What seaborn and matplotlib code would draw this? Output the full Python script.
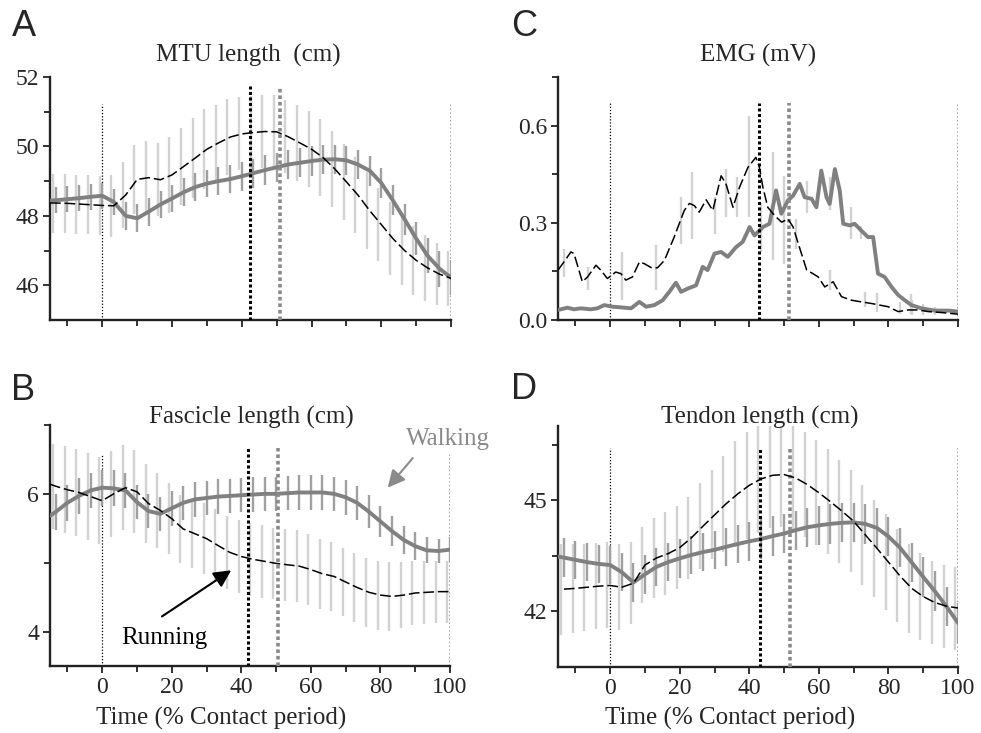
import numpy as np
import matplotlib
matplotlib.use("Agg")
import matplotlib.pyplot as plt
import seaborn as sns
from matplotlib.ticker import MultipleLocator, FixedLocator, FormatStrFormatter

# ---------------- data ----------------
time = [-15, -13.3, -10, -6.7, -3.3, 0, 3.3, 6.7, 10, 13.3, 16.7, 20, 23.3, 26.7, 30, 33.3,
        36.7, 40, 43.3, 46.7, 50, 53.3, 56.7, 60, 63.3, 66.7, 70, 73.3, 76.7, 80, 83.3,
        86.7, 90, 93.3, 96.7, 100]
nan = float("nan")

# A: MTU length (cm)
mtu_walk = [48.44, 48.45, 48.48, 48.51, 48.55, 48.58, 48.4, 48.0, 47.93, 48.12, 48.33, 48.5,
            48.68, 48.83, 48.93, 49.0, 49.06, 49.14, 49.23, 49.32, 49.4, 49.48, 49.53, 49.58,
            49.62, 49.63, 49.6, 49.48, 49.3, 48.95, 48.45, 47.9, 47.35, 46.85, 46.48, 46.22]
mtu_run = [48.37, 48.37, 48.36, 48.34, 48.32, 48.3, 48.29, 48.6, 49.05, 49.1, 49.04, 49.18,
           49.42, 49.67, 49.92, 50.1, 50.27, 50.36, 50.4, 50.43, 50.42, 50.28, 50.1, 49.92,
           49.68, 49.35, 48.98, 48.6, 48.15, 47.75, 47.35, 47.0, 46.72, 46.5, 46.32, 46.2]
mtu_walk_sd = [nan, 0.38, 0.38, 0.38, 0.38, 0.38, 0.38, 0.4, 0.4, 0.4, 0.4, 0.4, 0.4, 0.4,
               0.4, 0.4, 0.4, 0.42, 0.42, 0.42, 0.42, 0.42, 0.42, 0.42, 0.42, 0.42, 0.42,
               0.43, 0.43, 0.43, 0.43, 0.45, 0.47, 0.5, 0.52, 0.5]
mtu_run_sd = [nan, 0.85, 0.85, 0.85, 0.85, 0.85, 0.9, 0.95, 1.0, 1.05, 1.05, 1.1, 1.1, 1.15,
              1.15, 1.1, 1.1, 1.05, 1.05, 1.05, 1.05, 1.05, 1.1, 1.1, 1.1, 1.1, 1.1, 1.1,
              1.1, 1.05, 1.05, 1.0, 1.0, 0.95, 0.9, 0.8]

# B: Fascicle length (cm)
fas_walk = [5.68, 5.74, 5.87, 5.97, 6.05, 6.09, 6.08, 6.05, 5.88, 5.75, 5.71, 5.79, 5.87,
            5.92, 5.94, 5.96, 5.97, 5.98, 5.99, 6.0, 6.0, 6.01, 6.02, 6.02, 6.02, 6.0, 5.95,
            5.87, 5.74, 5.6, 5.46, 5.33, 5.24, 5.18, 5.17, 5.19]
fas_run = [6.14, 6.11, 6.06, 6.02, 5.96, 5.9, 6.0, 6.09, 6.03, 5.86, 5.76, 5.64, 5.49, 5.42,
           5.35, 5.25, 5.15, 5.09, 5.05, 5.02, 4.99, 4.97, 4.95, 4.9, 4.84, 4.8, 4.72, 4.64,
           4.57, 4.53, 4.51, 4.53, 4.56, 4.57, 4.58, 4.58]
fas_walk_sd = [nan, 0.26, 0.26, 0.26, 0.26, 0.26, 0.26, 0.26, 0.25, 0.25, 0.25, 0.25, 0.25,
               0.25, 0.25, 0.25, 0.25, 0.25, 0.25, 0.25, 0.25, 0.25, 0.25, 0.25, 0.25, 0.25,
               0.25, 0.25, 0.24, 0.23, 0.22, 0.21, 0.2, 0.19, 0.18, 0.18]
fas_run_sd = [nan, 0.62, 0.63, 0.63, 0.63, 0.63, 0.62, 0.62, 0.6, 0.58, 0.55, 0.52, 0.5,
              0.5, 0.52, 0.53, 0.53, 0.53, 0.53, 0.53, 0.52, 0.52, 0.52, 0.52, 0.51, 0.5,
              0.5, 0.5, 0.5, 0.5, 0.5, 0.48, 0.47, 0.46, 0.45, 0.45]

# D: Tendon length (cm)
ten_walk = [43.48, 43.45, 43.39, 43.33, 43.28, 43.25, 43.06, 42.78, 43.0, 43.2, 43.33, 43.43,
            43.52, 43.6, 43.66, 43.74, 43.82, 43.89, 43.95, 44.03, 44.1, 44.19, 44.27, 44.32,
            44.36, 44.39, 44.4, 44.36, 44.25, 44.02, 43.72, 43.32, 42.93, 42.55, 42.13, 41.69]
ten_run = [nan, 42.6, 42.62, 42.65, 42.68, 42.7, 42.65, 42.76, 43.25, 43.44, 43.56, 43.72,
           43.98, 44.3, 44.6, 44.9, 45.17, 45.4, 45.57, 45.67, 45.69, 45.6, 45.42, 45.2,
           44.96, 44.7, 44.43, 44.07, 43.7, 43.33, 42.96, 42.62, 42.4, 42.24, 42.14, 42.09]
ten_walk_sd = [nan, 0.52, 0.52, 0.52, 0.52, 0.52, 0.52, 0.52, 0.52, 0.52, 0.52, 0.52, 0.52,
               0.52, 0.52, 0.52, 0.52, 0.53, 0.53, 0.53, 0.53, 0.53, 0.53, 0.53, 0.53, 0.53,
               0.53, 0.53, 0.53, 0.53, 0.53, 0.53, 0.53, 0.53, 0.53, 0.53]
ten_run_sd = [nan, 1.23, 1.2, 1.18, 1.16, 1.16, 1.16, 1.1, 1.03, 1.08, 1.12, 1.12, 1.1, 1.15,
              1.2, 1.3, 1.43, 1.45, 1.45, 1.42, 1.42, 1.42, 1.42, 1.42, 1.41, 1.39, 1.38,
              1.35, 1.3, 1.3, 1.25, 1.2, 1.17, 1.12, 1.12, 1.12]

# C: EMG (mV)
emg_run_t = [-15, -13.3, -11.3, -10.4, -8, -6.5, -4.1, -2.7, -0.8, 1.6, 3.1, 4.5, 6.4, 8.4,
             9.8, 11.7, 13.6, 15.6, 18.4, 21.3, 22.8, 24.2, 25.6, 27.6, 29.5, 31.9, 33.3,
             35.3, 37.2, 39.6, 41.9, 42.9, 43.9, 45.3, 47.3, 49.3, 51.1, 52.6, 54.1, 56.5,
             58.3, 59.8, 61.7, 64.1, 66.5, 69.4, 72.2, 75.1, 79.9, 82.8, 85.7, 88.6, 91.4,
             95.3, 100]
emg_run = [0.154, 0.179, 0.21, 0.205, 0.118, 0.133, 0.169, 0.154, 0.128, 0.148, 0.143, 0.123,
           0.133, 0.179, 0.174, 0.162, 0.161, 0.184, 0.256, 0.338, 0.36, 0.353, 0.333, 0.371,
           0.338, 0.445, 0.42, 0.348, 0.41, 0.471, 0.502, 0.471, 0.41, 0.348, 0.322, 0.302,
           0.312, 0.287, 0.235, 0.154, 0.143, 0.133, 0.102, 0.118, 0.072, 0.061, 0.056,
           0.051, 0.041, 0.026, 0.031, 0.031, 0.026, 0.023, 0.018]
emg_walk_t = [-15, -12.3, -10.4, -8.5, -5.6, -3.7, -1.7, 0.7, 3.1, 6, 8.4, 10.3, 12.7, 15.1,
              17, 18.9, 20.4, 22.3, 24.7, 26.6, 28, 30, 31.9, 33.8, 36.2, 38.1, 40.1, 41.5,
              43.9, 45.8, 47.7, 49.2, 51.1, 52.6, 54.5, 55.9, 57.9, 59.3, 60.7, 62.2, 63.1,
              64.6, 66, 67, 68.9, 70.3, 72.2, 74.1, 75.6, 77, 78.9, 80.9, 82.8, 84.7, 86.6,
              89.5, 93.3, 97.2, 100]
emg_walk = [0.031, 0.038, 0.033, 0.036, 0.033, 0.036, 0.046, 0.041, 0.039, 0.036, 0.056,
            0.041, 0.046, 0.061, 0.087, 0.115, 0.087, 0.097, 0.107, 0.164, 0.154, 0.205, 0.21,
            0.195, 0.225, 0.241, 0.287, 0.261, 0.287, 0.297, 0.4, 0.328, 0.369, 0.384, 0.42,
            0.379, 0.374, 0.348, 0.461, 0.379, 0.358, 0.466, 0.4, 0.297, 0.292, 0.297, 0.276,
            0.256, 0.256, 0.143, 0.133, 0.102, 0.077, 0.061, 0.046, 0.036, 0.029, 0.029, 0.026]
emg_run_bar_t = [-13.2, -6.5, 3.5, 13.3, 20.3, 23.5, 30, 33.3, 36.5, 40, 46.7, 50, 53.3,
                 63.3, 73.3, 76.7, 83.3, 86.7]
emg_run_bar_lo = [0.133, 0.092, 0.061, 0.092, 0.235, 0.251, 0.266, 0.317, 0.317, 0.317,
                  0.184, 0.174, 0.22, 0.092, 0.041, 0.026, 0.02, 0.015]
emg_run_bar_hi = [0.22, 0.164, 0.21, 0.23, 0.379, 0.456, 0.379, 0.466, 0.44, 0.63, 0.517,
                  0.445, 0.312, 0.154, 0.087, 0.082, 0.056, 0.061]
emg_walk_bar_t = [43.3, 56.7, 63.3, 69.1, 72.0, 86.6, 90.0, 93.3]
emg_walk_bar_lo = [0.21, 0.33, 0.34, 0.25, 0.25, 0.02, 0.015, 0.015]
emg_walk_bar_hi = [0.36, 0.43, 0.44, 0.35, 0.29, 0.08, 0.05, 0.04]

# end of stance markers (running, walking) per panel
run_mark = {"A": 42.3, "B": 41.9, "C": 42.7, "D": 43.0}
walk_mark = {"A": 51.0, "B": 50.5, "C": 51.3, "D": 51.6}

titles = {"A": "MTU length  (cm)", "B": "Fascicle length (cm)",
          "C": "EMG (mV)", "D": "Tendon length (cm)"}
xlabel = "Time (% Contact period)"

# ---------------- style ----------------
sns.set_style("ticks")
plt.rcParams["font.family"] = ["Liberation Serif", "DejaVu Serif"]
plt.rcParams["axes.edgecolor"] = "#222222"

W, H = 981, 733
fig = plt.figure(figsize=(W / 100, H / 100), dpi=100)

WALK_C = "#808080"
WALK_BAR = "#a0a0a0"
RUN_BAR = "#d2d2d2"
RUN_DASH = (0, (7, 2.5))


def axes_px(l, t, r, b):
    return fig.add_axes([l / W, 1 - b / H, (r - l) / W, (b - t) / H])


axA = axes_px(50, 77, 451, 320)
axC = axes_px(558, 77, 958, 320)
axB = axes_px(50, 425, 450, 666)
axD = axes_px(558, 426, 958, 667)


def style(ax, ylim, major, minor, xlabels, vtops, key):
    ax.set_xlim(-15, 100)
    ax.set_ylim(*ylim)
    ax.xaxis.set_major_locator(MultipleLocator(20))
    ax.xaxis.set_minor_locator(MultipleLocator(10))
    ax.yaxis.set_major_locator(FixedLocator(major))
    ax.yaxis.set_minor_locator(FixedLocator(minor))
    sns.despine(ax=ax)
    for s in ("left", "bottom"):
        ax.spines[s].set_linewidth(1.7)
        ax.spines[s].set_color("#222222")
    ax.tick_params(which="major", length=5, width=1.3, labelsize=17, direction="out",
                   pad=3, color="#222222")
    ax.tick_params(which="minor", length=4, width=1.3, direction="out", color="#222222")
    ax.tick_params(labelbottom=xlabels)
    ax.set_xlabel("")
    ax.set_ylabel("")
    thin, thick = vtops
    ax.axvline(0, ymax=thin, color="black", lw=0.9, ls=(0, (1, 1.5)), zorder=1)
    ax.axvline(100, ymax=thin, color="#8a8a8a", lw=1.1, ls=(0, (1, 1.5)), zorder=1)
    ax.axvline(run_mark[key], ymax=thick, color="black", lw=2.2, ls=(0, (1, 0.8)), zorder=5)
    ax.axvline(walk_mark[key], ymax=thick, color="#8a8a8a", lw=2.6, ls=(0, (1, 0.8)),
               zorder=5)


def draw_series(ax, walk, run, walk_sd, run_sd):
    t = np.array(time)
    w = np.array(walk)
    r = np.array(run)
    ws = np.array(walk_sd)
    rs = np.array(run_sd)
    ok = ~np.isnan(rs) & ~np.isnan(r)
    ax.vlines(t[ok] - 0.8, r[ok] - rs[ok], r[ok] + rs[ok], color=RUN_BAR, lw=1.7, zorder=2)
    ok = ~np.isnan(ws)
    ax.vlines(t[ok], w[ok] - ws[ok], w[ok] + ws[ok], color=WALK_BAR, lw=1.7, zorder=3)
    sns.lineplot(x=time, y=walk, ax=ax, color=WALK_C, linewidth=2.8, zorder=4,
                 errorbar=None)
    sns.lineplot(x=time, y=run, ax=ax, color="black", linewidth=1.1, linestyle=RUN_DASH,
                 zorder=6, errorbar=None)


# A
draw_series(axA, mtu_walk, mtu_run, mtu_walk_sd, mtu_run_sd)
style(axA, (45, 52), [46, 48, 50, 52], [47, 49, 51], False, (0.89, 0.965), "A")

# B
draw_series(axB, fas_walk, fas_run, fas_walk_sd, fas_run_sd)
style(axB, (3.5, 7), [4, 6], [5, 7], True, (0.88, 0.905), "B")

# D
draw_series(axD, ten_walk, ten_run, ten_walk_sd, ten_run_sd)
style(axD, (40.5, 47), [42, 45], [43.5, 46.5], True, (0.91, 0.905), "D")

# C (EMG)
axC.vlines(emg_run_bar_t, emg_run_bar_lo, emg_run_bar_hi, color=RUN_BAR, lw=1.7, zorder=2)
axC.vlines(emg_walk_bar_t, emg_walk_bar_lo, emg_walk_bar_hi, color=RUN_BAR, lw=1.7, zorder=2)
sns.lineplot(x=emg_walk_t, y=emg_walk, ax=axC, color=WALK_C, linewidth=2.8, zorder=4,
             errorbar=None)
sns.lineplot(x=emg_run_t, y=emg_run, ax=axC, color="black", linewidth=1.1,
             linestyle=RUN_DASH, zorder=6, errorbar=None)
style(axC, (0, 0.75), [0, 0.3, 0.6], [0.15, 0.45, 0.75], False, (0.893, 0.893), "C")
axC.yaxis.set_major_formatter(FormatStrFormatter("%.1f"))

# titles, labels, panel letters
def ftext(px, py, s, **kw):
    fig.text(px / W, 1 - py / H, s, **kw)


ftext(248, 55, titles["A"], ha="center", va="center", fontsize=18)
ftext(758, 55, titles["C"], ha="center", va="center", fontsize=18)
ftext(251, 417, titles["B"], ha="center", va="center", fontsize=18)
ftext(760, 417, titles["D"], ha="center", va="center", fontsize=18)
ftext(221, 718, xlabel, ha="center", va="center", fontsize=18)
ftext(730, 718, xlabel, ha="center", va="center", fontsize=18)

for letter, (px, py) in {"A": (12, 27), "C": (511, 27), "B": (11, 390), "D": (511, 389)}.items():
    ftext(px, py, letter, ha="left", va="center", fontsize=26,
          family=["Liberation Sans", "DejaVu Sans"])

# annotations in panel B
axB.annotate("", xy=(37.1, 4.89), xytext=(17.2, 4.22),
             arrowprops=dict(arrowstyle="-|>", color="black", lw=1.5, mutation_scale=26,
                             shrinkA=0, shrinkB=0), zorder=7)
axB.text(17.8, 3.9, "Running", ha="center", va="center", fontsize=18, color="black")
axB.annotate("", xy=(82.1, 6.09), xytext=(89.3, 6.52),
             arrowprops=dict(arrowstyle="-|>", color="#8a8a8a", lw=1.5, mutation_scale=26,
                             shrinkA=0, shrinkB=0), annotation_clip=False, zorder=7)
axB.text(99.4, 6.8, "Walking", ha="center", va="center", fontsize=18, color="#8a8a8a",
         clip_on=False)

fig.savefig("out.png", dpi=100)
